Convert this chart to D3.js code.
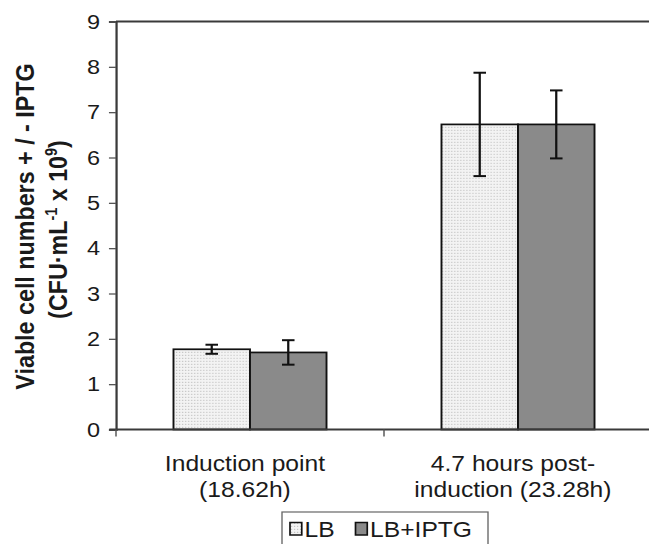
<!DOCTYPE html>
<html>
<head>
<meta charset="utf-8">
<script src="https://cdn.jsdelivr.net/npm/d3@7"></script>
<style>
html,body{margin:0;padding:0;background:#fff;}
svg{display:block;}
text{font-family:"Liberation Sans",Arial,sans-serif;fill:#1a1a1a;}
</style>
</head>
<body>
<script>
// ---- data ----
const categories = ["Induction point", "4.7 hours post-induction"];
const categoryLabelLines = [["Induction point", "(18.62h)"], ["4.7 hours post-", "induction (23.28h)"]];
const seriesNames = ["LB", "LB+IPTG"];
const lbValues = [1.77, 6.73];
const lbErrors = [0.10, 1.14];
const iptgValues = [1.70, 6.73];
const iptgErrors = [0.27, 0.75];
const yTicks = [0, 1, 2, 3, 4, 5, 6, 7, 8, 9];

// ---- layout ----
const PW = 649, PH = 544, SX = 1.12;          // picture is slightly stretched horizontally
const VW = PW / SX;
const mLeft = 116 / SX, mRight = 652 / SX, mTop = 21.5, mBottom = 429.5;

const svg = d3.select("body").append("svg")
  .attr("width", PW).attr("height", PH)
  .attr("viewBox", `0 0 ${VW} ${PH}`)
  .attr("preserveAspectRatio", "none");

const defs = svg.append("defs");
const pat = defs.append("pattern").attr("id", "dots")
  .attr("patternUnits", "userSpaceOnUse").attr("width", 2.7).attr("height", 3);
pat.append("rect").attr("width", 2.7).attr("height", 3).attr("fill", "#f3f3f3");
pat.append("rect").attr("x", 0.6).attr("y", 0.8).attr("width", 1).attr("height", 1.2).attr("fill", "#c4c4c4");

const x = d3.scaleBand().domain(categories).range([mLeft, mRight]).paddingInner(0).paddingOuter(0);
const y = d3.scaleLinear().domain([0, 9]).range([mBottom, mTop]);

const bw = x.bandwidth();
const barW = bw * 0.2855;
const series = [
  {name: seriesNames[0], values: lbValues, errors: lbErrors, fill: "url(#dots)", off: -1},
  {name: seriesNames[1], values: iptgValues, errors: iptgErrors, fill: "#8a8a8a", off: 0}
];

// frame (top line)
svg.append("line").attr("x1", mLeft).attr("x2", VW + 5).attr("y1", mTop).attr("y2", mTop)
  .attr("stroke", "#3a3a3a").attr("stroke-width", 2);

// bars
series.forEach(s => {
  const g = svg.append("g");
  g.selectAll("rect").data(categories).join("rect")
    .attr("x", (d) => x(d) + bw / 2 + s.off * barW)
    .attr("y", (d, i) => y(s.values[i]))
    .attr("width", barW)
    .attr("height", (d, i) => mBottom - y(s.values[i]))
    .attr("fill", s.fill)
    .attr("stroke", "#111").attr("stroke-width", 1.7);
});

// error bars
series.forEach(s => {
  const g = svg.append("g").attr("stroke", "#111").attr("stroke-width", 2);
  categories.forEach((c, i) => {
    const cx = x(c) + bw / 2 + s.off * barW + barW / 2;
    const y1 = y(s.values[i] + s.errors[i]), y2 = y(s.values[i] - s.errors[i]);
    const cap = 5.6;
    g.append("line").attr("x1", cx).attr("x2", cx).attr("y1", y1).attr("y2", y2);
    g.append("line").attr("x1", cx - cap).attr("x2", cx + cap).attr("y1", y1).attr("y2", y1);
    g.append("line").attr("x1", cx - cap).attr("x2", cx + cap).attr("y1", y2).attr("y2", y2);
  });
});

// y axis
const yAxis = d3.axisLeft(y).tickValues(yTicks).tickFormat(d3.format("d"))
  .tickSize(6.3).tickPadding(8);
const ya = svg.append("g").attr("transform", `translate(${mLeft},0)`).call(yAxis);
ya.select(".domain").attr("stroke", "#3a3a3a").attr("stroke-width", 2);
ya.selectAll(".tick line").attr("stroke", "#555").attr("stroke-width", 1.3);
ya.selectAll(".tick text").style("font-size", "21px").attr("fill", "#1a1a1a")
  .style("font-family", "'Liberation Sans',Arial,sans-serif");

// x axis
svg.append("line").attr("x1", mLeft - 6).attr("x2", VW + 5).attr("y1", mBottom).attr("y2", mBottom)
  .attr("stroke", "#3a3a3a").attr("stroke-width", 2);
const boundaries = categories.map(c => x(c)).concat([x(categories[categories.length - 1]) + bw]);
svg.selectAll(".xtick").data(boundaries).join("line").attr("class", "xtick")
  .attr("x1", d => d).attr("x2", d => d).attr("y1", mBottom).attr("y2", mBottom + 7)
  .attr("stroke", "#555").attr("stroke-width", 1.3);

categories.forEach((c, i) => {
  const t = svg.append("text").attr("text-anchor", "middle").style("font-size", "22px")
    .attr("x", x(c) + bw / 2 - 4.5).attr("y", 471.5);
  categoryLabelLines[i].forEach((ln, j) => {
    t.append("tspan").attr("x", x(c) + bw / 2 - 4.5).attr("dy", j === 0 ? 0 : 25.5).text(ln);
  });
});

// y label
const yl = svg.append("text").attr("text-anchor", "middle")
  .attr("transform", `translate(30,${(mTop + mBottom) / 2 + 1}) rotate(-90)`)
  .style("font-size", "23.3px").style("font-weight", "bold");
yl.append("tspan").attr("x", 0).attr("y", 0).text("Viable cell numbers + / - IPTG");
const yl2 = svg.append("text").attr("text-anchor", "middle")
  .attr("transform", `translate(59.5,${(mTop + mBottom) / 2 + 4}) rotate(-90)`)
  .style("font-size", "23.3px").style("font-weight", "bold");
yl2.append("tspan").text("(CFU·mL");
yl2.append("tspan").attr("dy", -9).style("font-size", "14.5px").text("-1");
yl2.append("tspan").attr("dy", 9).text(" x 10");
yl2.append("tspan").attr("dy", -9).style("font-size", "14.5px").text("9");
yl2.append("tspan").attr("dy", 9).text(")");

// legend
const lg = svg.append("g");
lg.append("rect").attr("x", 282 / SX).attr("y", 512).attr("width", (488 - 282) / SX).attr("height", 60)
  .attr("fill", "#fff").attr("stroke", "#666").attr("stroke-width", 1.2);
const legX = [290 / SX, 355.5 / SX];
series.forEach((s, i) => {
  lg.append("rect").attr("x", legX[i]).attr("y", 522.5).attr("width", 10.5).attr("height", 12.5)
    .attr("fill", s.fill).attr("stroke", "#111").attr("stroke-width", 1.5);
  lg.append("text").attr("x", legX[i] + 13).attr("y", 537).style("font-size", "22px").text(s.name);
});
</script>
</body>
</html>
